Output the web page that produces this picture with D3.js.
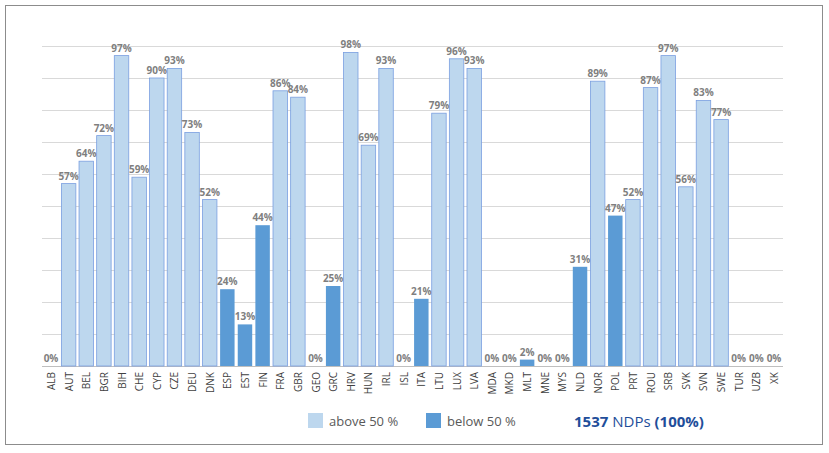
<!DOCTYPE html>
<html><head><meta charset="utf-8">
<script src="https://cdn.jsdelivr.net/npm/d3@7"></script>
<style>body{margin:0;background:#fff;font-family:"Open Sans",Calibri,sans-serif}</style>
</head><body><svg id="c" width="829" height="453"></svg>
<script>
const categories=["ALB","AUT","BEL","BGR","BIH","CHE","CYP","CZE","DEU","DNK","ESP","EST","FIN","FRA","GBR","GEO","GRC","HRV","HUN","IRL","ISL","ITA","LTU","LUX","LVA","MDA","MKD","MLT","MNE","MYS","NLD","NOR","POL","PRT","ROU","SRB","SVK","SVN","SWE","TUR","UZB","XK"];
const values=[0,57,64,72,97,59,90,93,73,52,24,13,44,86,84,0,25,98,69,93,0,21,79,96,93,0,0,2,0,0,31,89,47,52,87,97,56,83,77,0,0,0];
const gridTicks=[0,10,20,30,40,50,60,70,80,90,100];
const legendLabels=["above 50 %","below 50 %"];
const svg=d3.select("#c");
svg.append("rect").attr("x",5.5).attr("y",5.5).attr("width",817).attr("height",439).attr("fill","#fff").attr("stroke","#8c8c8c");
const x=d3.scaleBand().domain(categories).range([42,783]).paddingInner(0.18).paddingOuter(0.1);
const y=d3.scaleLinear().domain([0,100]).range([366,46]);
svg.append("g").selectAll("line").data(gridTicks).join("line")
 .attr("x1",42).attr("x2",783).attr("y1",d=>y(d)+0.5).attr("y2",d=>y(d)+0.5)
 .attr("stroke",d=>d===0?"#bfbfbf":"#d9d9d9");
const light="#bdd7ee",dark="#5b9bd5";
svg.append("g").selectAll("rect").data(values).join("rect")
 .attr("x",(d,i)=>x(categories[i])).attr("width",x.bandwidth())
 .attr("y",d=>y(d)).attr("height",d=>y(0)-y(d))
 .attr("fill",d=>d>50?light:dark).attr("stroke",d=>d>50?"#7a9fe0":"none").attr("stroke-width",0.8);
svg.append("g").selectAll("text").data(values).join("text")
 .attr("x",(d,i)=>x(categories[i])+x.bandwidth()/2).attr("y",d=>y(d)-4)
 .attr("text-anchor","middle").attr("font-size",10).attr("font-weight","bold").attr("fill","#7f7f7f")
 .text(d=>d+"%");
svg.append("g").selectAll("text").data(categories).join("text")
 .attr("transform",(d)=>`translate(${x(d)+x.bandwidth()/2+4},372) rotate(-90)`)
 .attr("text-anchor","end").attr("font-size",10).attr("fill","#404040").text(d=>d);
const lg=svg.append("g");
[light,dark].forEach((c,i)=>{
 const lx=308+i*118;
 lg.append("rect").attr("x",lx).attr("y",413).attr("width",15).attr("height",15).attr("fill",c);
 lg.append("text").attr("x",lx+21).attr("y",426).attr("font-size",13).attr("fill","#595959").text(legendLabels[i]);
});
const t=lg.append("text").attr("x",574).attr("y",427).attr("font-size",15).attr("fill","#1f4e9a");
t.append("tspan").attr("font-weight","bold").text("1537");
t.append("tspan").text(" NDPs ");
t.append("tspan").attr("font-weight","bold").text("(100%)");
</script></body></html>
